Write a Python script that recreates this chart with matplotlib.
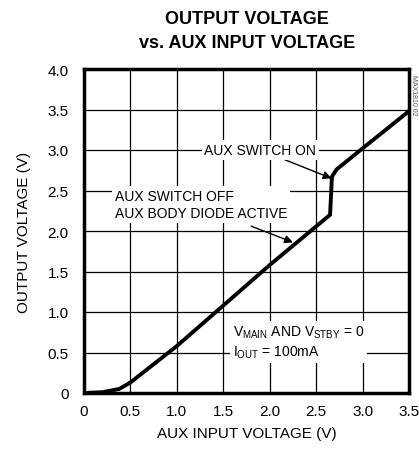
import matplotlib
matplotlib.use("Agg")
import matplotlib.pyplot as plt

x_vals = [0.0, 0.2, 0.38, 0.5, 0.7, 1.0, 1.5, 2.0, 2.65, 2.67, 2.72, 3.0, 3.5]
y_vals = [0.0, 0.01, 0.05, 0.13, 0.31, 0.58, 1.08, 1.58, 2.2, 2.67, 2.76, 3.02, 3.48]
x_ticks = [0, 0.5, 1.0, 1.5, 2.0, 2.5, 3.0, 3.5]
x_labels = ["0", "0.5", "1.0", "1.5", "2.0", "2.5", "3.0", "3.5"]
y_ticks = [0, 0.5, 1.0, 1.5, 2.0, 2.5, 3.0, 3.5, 4.0]
y_labels = ["0", "0.5", "1.0", "1.5", "2.0", "2.5", "3.0", "3.5", "4.0"]

fam = ["Liberation Sans Narrow", "Liberation Sans", "DejaVu Sans"]
plt.rcParams['font.family'] = fam
plt.rcParams['mathtext.fontset'] = 'custom'
plt.rcParams['mathtext.rm'] = 'Liberation Sans'

fig = plt.figure(figsize=(4.19, 4.56), dpi=100)
ax = fig.add_axes([84/419, 1-394/456, 325/419, 324/456])
ax.set_xlim(0, 3.5)
ax.set_ylim(0, 4.0)
ax.set_xticks(x_ticks)
ax.set_xticklabels(x_labels)
ax.set_yticks(y_ticks)
ax.set_yticklabels(y_labels)
ax.tick_params(length=0, labelsize=11, pad=11)
ax.tick_params(axis='x', pad=8)
ax.grid(True, color='black', linewidth=0.9)
ax.set_axisbelow(True)
for s in ax.spines.values():
    s.set_linewidth(2.5)
    s.set_zorder(5)

ax.plot(x_vals, y_vals, color='black', linewidth=2.8, zorder=4, solid_joinstyle='miter')

ax.set_xlabel("AUX INPUT VOLTAGE (V)", fontsize=11, labelpad=6)
ax.set_ylabel("OUTPUT VOLTAGE (V)", fontsize=11, labelpad=12)

fig.text(247/419, 1-19/456, "OUTPUT VOLTAGE", ha='center', va='center', fontsize=13, fontweight='bold')
fig.text(247/419, 1-44/456, "vs. AUX INPUT VOLTAGE", ha='center', va='center', fontsize=13, fontweight='bold')

bb = dict(facecolor='white', edgecolor='none', pad=2)
ax.annotate("AUX SWITCH ON", xy=(2.665, 2.65), xytext=(1.9, 3.0), fontsize=10,
            ha='center', va='center', bbox=bb, zorder=3,
            arrowprops=dict(arrowstyle='-|>', color='black', lw=1, shrinkA=0, shrinkB=0,
                            mutation_scale=12))
ax.text(0.33, 2.33, "AUX SWITCH OFF\nAUX BODY DIODE ACTIVE", fontsize=10, ha='left',
        va='center', bbox=bb, zorder=3, linespacing=1.3)
ax.annotate("", xy=(2.25, 1.86), xytext=(1.8, 2.06),
            arrowprops=dict(arrowstyle='-|>', color='black', lw=1, shrinkA=0, shrinkB=0,
                            mutation_scale=12), zorder=3)
ax.text(1.6, 0.63, "V$_{\\mathregular{MAIN}}$ AND V$_{\\mathregular{STBY}}$ = 0\nI$_{\\mathregular{OUT}}$ = 100mA",
        fontsize=10, ha='left', va='center', bbox=bb, zorder=3, linespacing=1.35)

fig.text(413/419, 1-95/456, "MAX1810 02", rotation=-90, fontsize=5, color='#555555',
         ha='center', va='center')

fig.savefig("out.png", dpi=100)
